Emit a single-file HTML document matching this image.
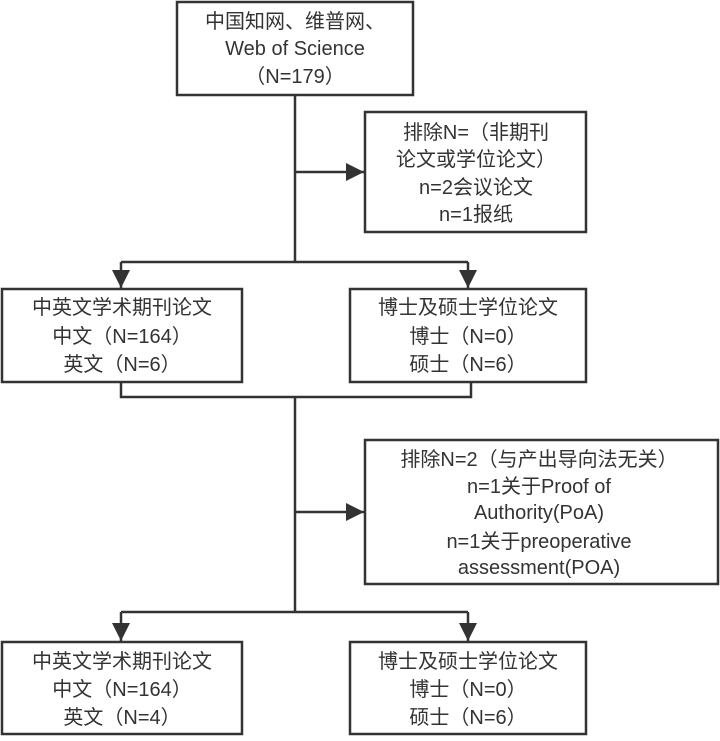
<!DOCTYPE html>
<html><head><meta charset="utf-8"><style>
html,body{margin:0;padding:0;background:#fff;}
svg text{font-family:"Liberation Sans","Noto Sans CJK SC",sans-serif;font-size:20px;fill:#333;text-anchor:middle;dominant-baseline:central;}
</style></head><body>
<svg width="720" height="736" viewBox="0 0 720 736" xmlns="http://www.w3.org/2000/svg">
<defs><marker id="a" markerWidth="10" markerHeight="10" refX="9" refY="5" orient="auto" markerUnits="userSpaceOnUse"><path d="M0,0 L10,5 L0,10 z" fill="#333"/></marker>
<marker id="b" markerWidth="20" markerHeight="20" refX="18" refY="9" orient="auto" markerUnits="userSpaceOnUse"><path d="M0,0 L18,9 L0,18 z" fill="#333"/></marker></defs>
<g fill="none" stroke="#333" stroke-width="2.5">
<rect x="177" y="2" width="236" height="93"/>
<rect x="365" y="112" width="221" height="120"/>
<rect x="2" y="289" width="240" height="93"/>
<rect x="350" y="289" width="236" height="93"/>
<rect x="365" y="440" width="353" height="144"/>
<rect x="2" y="642" width="240" height="92"/>
<rect x="350" y="642" width="236" height="92"/>
<path d="M295 95 V262"/>
<path d="M295 172 H364" marker-end="url(#b)"/>
<path d="M121 262 H468"/>
<path d="M121 262 V288" marker-end="url(#b)"/>
<path d="M468 262 V288" marker-end="url(#b)"/>
<path d="M121 382 V397 H471 V382"/>
<path d="M295 397 V612"/>
<path d="M295 512 H364" marker-end="url(#b)"/>
<path d="M121 612 H468"/>
<path d="M121 612 V641" marker-end="url(#b)"/>
<path d="M468 612 V641" marker-end="url(#b)"/>
</g>
<text x="295" y="22">中国知网、维普网、</text>
<text x="295" y="49">Web of Science</text>
<text x="295" y="77">（N=179）</text>
<text x="476" y="133">排除N=（非期刊</text>
<text x="476" y="160">论文或学位论文）</text>
<text x="476" y="188">n=2会议论文</text>
<text x="476" y="215">n=1报纸</text>
<text x="122" y="308">中英文学术期刊论文</text>
<text x="122" y="337">中文（N=164）</text>
<text x="122" y="365">英文（N=6）</text>
<text x="468" y="308">博士及硕士学位论文</text>
<text x="468" y="337">博士（N=0）</text>
<text x="468" y="365">硕士（N=6）</text>
<text x="539" y="460">排除N=2（与产出导向法无关）</text>
<text x="539" y="487">n=1关于Proof of</text>
<text x="539" y="513">Authority(PoA)</text>
<text x="539" y="542">n=1关于preoperative</text>
<text x="539" y="568">assessment(POA)</text>
<text x="122" y="662">中英文学术期刊论文</text>
<text x="122" y="690">中文（N=164）</text>
<text x="122" y="718">英文（N=4）</text>
<text x="468" y="662">博士及硕士学位论文</text>
<text x="468" y="690">博士（N=0）</text>
<text x="468" y="718">硕士（N=6）</text>
</svg>
</body></html>
